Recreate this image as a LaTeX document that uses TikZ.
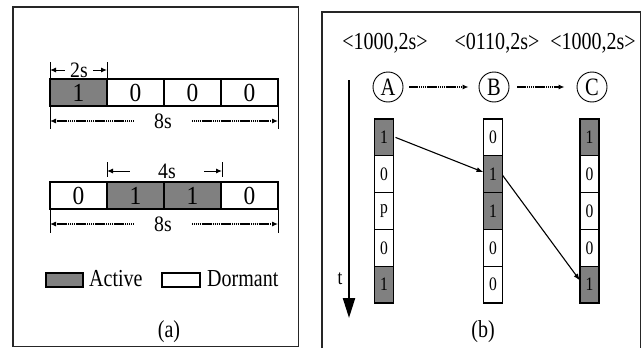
\documentclass[tikz,border=0pt]{standalone}
\usepackage{fontspec}
\setmainfont{Liberation Serif}
\newfontfamily\tallfont[FakeStretch=0.82]{Liberation Serif}
\newfontfamily\midfont[FakeStretch=0.9]{Liberation Serif}
\usetikzlibrary{arrows.meta,calc}
\definecolor{actgray}{gray}{0.5}
\begin{document}
\begin{tikzpicture}[x=1pt,y=-1pt,
  frame/.style={line width=1.5pt, draw=black!85},
  rcell/.style={draw, line width=1.1pt, minimum width=57pt, minimum height=27pt, inner sep=0pt, outer sep=0pt, font=\midfont\fontsize{26}{26}\selectfont},
  ccell/.style={draw, line width=1.1pt, minimum width=19pt, minimum height=36.8pt, inner sep=0pt, outer sep=0pt, font=\tallfont\fontsize{19}{19}\selectfont},
  act/.style={fill=actgray},
  tick/.style={line width=1pt},
  dimlab/.style={font=\midfont\fontsize{22}{22}\selectfont, inner ysep=0pt},
  solidarr/.style={line width=1pt, -{Latex[length=6pt,width=5pt]}},
  dotarr/.style={line width=1.1pt, dash pattern=on 1.4pt off 0.5pt, -{Latex[length=6pt,width=5pt]}},
  lab/.style={font=\tallfont\fontsize{24.4}{24.4}\selectfont},
  nodec/.style={draw, circle, line width=0.9pt, minimum size=30pt, inner sep=0pt, font=\tallfont\fontsize{25}{25}\selectfont},
  linkarr/.style={line width=1.1pt, -{Latex[length=7pt,width=5pt]}}
]
\useasboundingbox (0,0) rectangle (642,348);
% ---------------- panel (a) ----------------
\draw[frame] (13,7) rectangle (298.5,346.5);
% row 1
\node[rcell,act] (r1a) at (78.5,92.5) {1};
\node[rcell] (r1b) at (135.5,92.5) {0};
\node[rcell] (r1c) at (192.5,92.5) {0};
\node[rcell] (r1d) at (249.5,92.5) {0};
% 2s dimension
\coordinate (t2a) at (50,62);
\coordinate (t2b) at (107,62);
\draw[tick] (t2a) -- (r1a.north west);
\draw[tick] (t2b) -- (r1a.north east);
\node[dimlab, inner xsep=5pt] (l2s) at (79,70) {2s};
\draw[solidarr] (l2s.west) -- (t2a|-l2s);
\draw[solidarr] (l2s.east) -- (t2b|-l2s);
% 8s dimension, row 1
\coordinate (e1a) at (50,129);
\coordinate (e1b) at (278,129);
\draw[tick] (r1a.south west) -- (e1a);
\draw[tick] (r1d.south east) -- (e1b);
\node[dimlab, inner xsep=20pt] (l8a) at (163,121) {8s};
\draw[dotarr] (l8a.west) -- (e1a|-l8a);
\draw[dotarr] (l8a.east) -- (e1b|-l8a);
% row 2
\node[rcell] (r2a) at (78.5,195.5) {0};
\node[rcell,act] (r2b) at (135.5,195.5) {1};
\node[rcell,act] (r2c) at (192.5,195.5) {1};
\node[rcell] (r2d) at (249.5,195.5) {0};
% 4s dimension
\coordinate (t4a) at (107,162);
\coordinate (t4b) at (222,162);
\coordinate (t4a2) at (107,177);
\coordinate (t4b2) at (222,177);
\draw[tick] (t4a) -- (t4a2);
\draw[tick] (t4b) -- (t4b2);
\node[dimlab, inner xsep=28pt] (l4s) at (167,171) {4s};
\draw[solidarr] (l4s.west) -- (t4a|-l4s);
\draw[solidarr] (l4s.east) -- (t4b|-l4s);
% 8s dimension, row 2
\coordinate (e2a) at (50,233);
\coordinate (e2b) at (278,233);
\draw[tick] (r2a.south west) -- (e2a);
\draw[tick] (r2d.south east) -- (e2b);
\node[dimlab, inner xsep=20pt] (l8b) at (163,224) {8s};
\draw[dotarr] (l8b.west) -- (e2a|-l8b);
\draw[dotarr] (l8b.east) -- (e2b|-l8b);
% legend
\node[draw, line width=1.1pt, fill=actgray, minimum width=37pt, minimum height=14pt, inner sep=0pt] (legA) at (64.5,280) {};
\node[lab, anchor=west, inner xsep=0pt] (legAt) at (89,279) {Active};
\node[draw, line width=1.1pt, minimum width=38pt, minimum height=14pt, inner sep=0pt] (legD) at (181,280) {};
\node[lab, anchor=west, inner xsep=0pt] (legDt) at (207,279) {Dormant};
\node[lab] (capa) at (169,332) {(a)};
% ---------------- panel (b) ----------------
\draw[frame] (322,348) -- (322,12) -- (640.5,12) -- (640.5,348);
\node[lab] (sA) at (385,43) {<1000,2s>};
\node[lab] (sB) at (497,43) {<0110,2s>};
\node[lab] (sC) at (593,43) {<1000,2s>};
\node[nodec] (A) at (388,87) {A};
\node[nodec] (B) at (494,87) {B};
\node[nodec] (C) at (592,87) {C};
\draw[dotarr, shorten <=6pt, shorten >=10pt] (A) -- (B);
\draw[dotarr, shorten <=8pt, shorten >=12pt] (B) -- (C);
% columns
\node[ccell,act] (a1) at (384,137.4) {1};
\node[ccell] (a2) at (384,174.2) {0};
\node[ccell] (a3) at (384,211) {p};
\node[ccell] (a4) at (384,247.8) {0};
\node[ccell,act] (a5) at (384,284.6) {1};
\node[ccell] (b1) at (493,137.4) {0};
\node[ccell,act] (b2) at (493,174.2) {1};
\node[ccell,act] (b3) at (493,211) {1};
\node[ccell] (b4) at (493,247.8) {0};
\node[ccell] (b5) at (493,284.6) {0};
\node[ccell,act] (c1) at (589.5,137.4) {1};
\node[ccell] (c2) at (589.5,174.2) {0};
\node[ccell] (c3) at (589.5,211) {0};
\node[ccell] (c4) at (589.5,247.8) {0};
\node[ccell,act] (c5) at (589.5,284.6) {1};
% links
\draw[linkarr] ($(a1.east)+(2,0)$) -- ($(b2.west)+(0,-2)$);
\draw[linkarr] ($(b2.east)+(0,1)$) -- ($(c5.west)+(0,-4)$);
% time axis
\coordinate (ttop) at (349,80);
\coordinate (tbot) at (349,318);
\draw[line width=2.2pt, -{Triangle[length=20pt,width=12pt]}] (ttop) -- (tbot);
\node[font=\tallfont\fontsize{21}{21}\selectfont] (tl) at (340,279) {t};
\node[lab] (capb) at (483,332) {(b)};
\end{tikzpicture}
\end{document}
